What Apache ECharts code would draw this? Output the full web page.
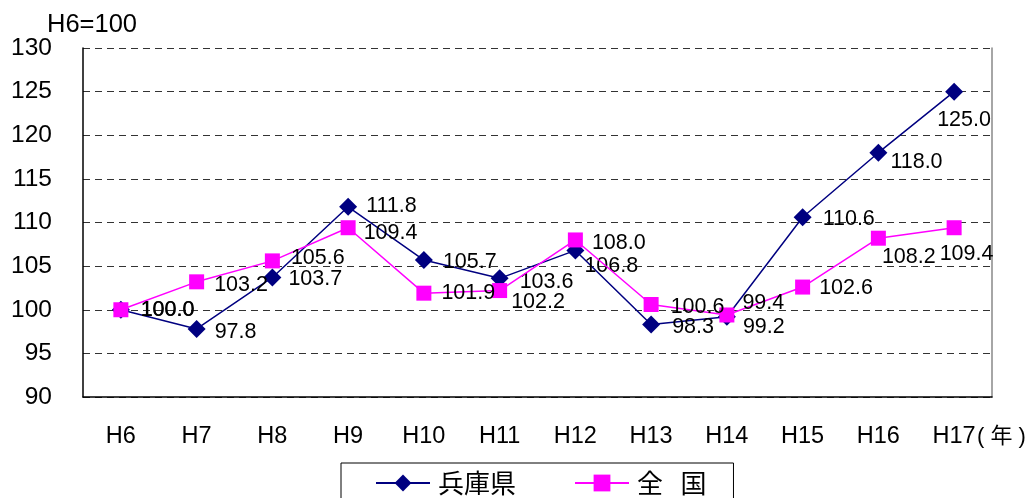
<!DOCTYPE html>
<html>
<head>
<meta charset="utf-8">
<script src="https://cdn.jsdelivr.net/npm/echarts@6/dist/echarts.min.js"></script>
<style>
  html, body { margin: 0; padding: 0; background: #fff; }
  #main { width: 1030px; height: 498px; }
</style>
</head>
<body>
<div id="main"></div>
<script>
// 年次 (平成)
var years = ['H6', 'H7', 'H8', 'H9', 'H10', 'H11', 'H12', 'H13', 'H14', 'H15', 'H16', 'H17'];
// 指数 H6=100
var hyogo = [100.0, 97.8, 103.7, 111.8, 105.7, 103.6, 106.8, 98.3, 99.2, 110.6, 118.0, 125.0];
var zenkoku = [100.0, 103.2, 105.6, 109.4, 101.9, 102.2, 108.0, 100.6, 99.4, 102.6, 108.2, 109.4];
var yTicks = [90, 95, 100, 105, 110, 115, 120, 125, 130];

// ラベルのずらし量 (重なり回避)
var hyogoLabelShift = [[6, 0], [4, 3], [2, 2], [4, -1], [5, 2], [6, 4], [-5, 16], [7, 2], [2, 10], [6, 2], [-2, 9], [-31, 28]];
var zenkokuLabelShift = [[7, 0], [5, 3], [6, -3], [3, 5], [5, 0], [-1, 12], [4, 3], [7, 3], [3, -12], [4, 1], [-9, 19], [-27, 26]];

var font = '"Liberation Sans", Arial, "Noto Sans CJK JP", sans-serif';

function withLabels(values, shifts) {
  return values.map(function (v, i) {
    return { value: v, label: { offset: shifts[i] } };
  });
}

var myChart = echarts.init(document.getElementById('main'));
myChart.setOption({
  animation: false,
  textStyle: { fontFamily: font },
  title: {
    text: 'H6=100',
    left: 47,
    top: 12,
    padding: 0,
    textStyle: { fontSize: 25.5, fontWeight: 'normal', color: '#000', fontFamily: font }
  },
  grid: { left: 83, right: 38, top: 48, bottom: 101, containLabel: false },
  legend: {
    left: 341,
    top: 463,
    padding: [7, 27, 10, 34],
    borderColor: '#000',
    borderWidth: 1,
    itemWidth: 54,
    itemHeight: 21,
    itemGap: 58,
    textStyle: { fontSize: 26, color: '#000', fontFamily: '"Noto Sans CJK JP", sans-serif', padding: [0, 0, 0, 3] },
    data: ['兵庫県', '全   国']
  },
  graphic: [{
    type: 'text',
    left: 977,
    top: 426,
    style: { text: '( 年 )', font: '22px ' + font, fill: '#000' }
  }],
  xAxis: {
    type: 'category',
    data: years,
    boundaryGap: true,
    axisLine: { lineStyle: { color: '#000', width: 1.5 } },
    axisTick: { inside: true, length: 9, lineStyle: { color: '#000' } },
    axisLabel: { color: '#000', fontSize: 23.5, margin: 28, fontFamily: font }
  },
  yAxis: [{
    type: 'value',
    min: yTicks[0],
    max: yTicks[yTicks.length - 1],
    interval: 5,
    axisLine: { show: true, lineStyle: { color: '#000', width: 1.5 } },
    axisTick: { show: false },
    axisLabel: { color: '#000', fontSize: 24.5, margin: 31, fontFamily: font },
    splitLine: { lineStyle: { color: '#333', type: [7, 5], width: 1 } }
  }, {
    type: 'value',
    position: 'right',
    min: yTicks[0],
    max: yTicks[yTicks.length - 1],
    interval: 5,
    axisLine: { show: true, lineStyle: { color: '#888', width: 1.5 } },
    axisTick: { show: false },
    axisLabel: { show: false },
    splitLine: { show: false }
  }],
  series: [{
    name: '兵庫県',
    type: 'line',
    data: withLabels(hyogo, hyogoLabelShift),
    symbol: 'diamond',
    symbolSize: 18,
    itemStyle: { color: '#000080' },
    lineStyle: { color: '#000080', width: 1.5 },
    label: {
      show: true,
      position: 'right',
      distance: 5,
      fontSize: 21.5,
      color: '#000',
      fontFamily: font,
      formatter: function (p) { return p.value.toFixed(1); }
    },
    z: 2
  }, {
    name: '全   国',
    type: 'line',
    data: withLabels(zenkoku, zenkokuLabelShift),
    symbol: 'rect',
    symbolSize: 15,
    itemStyle: { color: '#FF00FF' },
    lineStyle: { color: '#FF00FF', width: 1.5 },
    label: {
      show: true,
      position: 'right',
      distance: 5,
      fontSize: 21.5,
      color: '#000',
      fontFamily: font,
      formatter: function (p) { return p.value.toFixed(1); }
    },
    z: 3
  }]
});
</script>
</body>
</html>
